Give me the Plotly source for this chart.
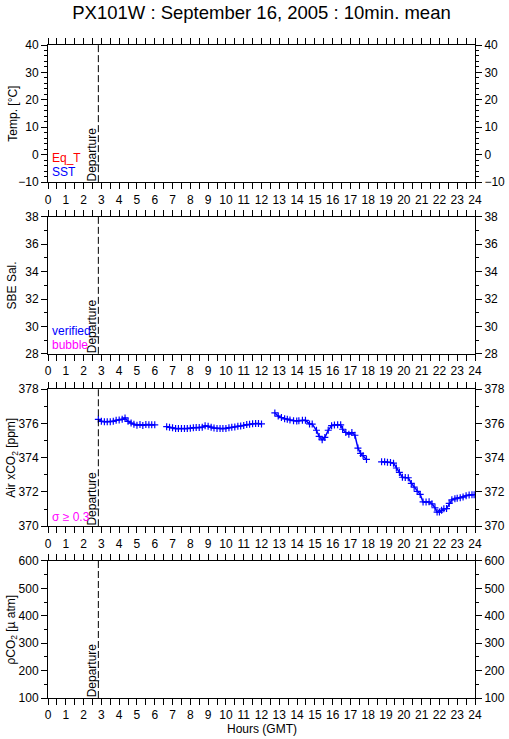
import plotly.graph_objects as go

# ---------------- data ----------------
title_text = "PX101W : September 16, 2005 : 10min. mean"
x_range = [0, 24]
departure_hour = 2.83

temp_range = [-10, 40]
sal_range = [28, 38]
air_range = [370, 378]
pco2_range = [100, 600]

# Air xCO2 (ppm), 10-min means, four segments separated by gaps
seg1_h = [2.83, 3.0, 3.17, 3.33, 3.5, 3.67, 3.83, 4.0, 4.17, 4.33, 4.5, 4.67,
          4.83, 5.0, 5.17, 5.33, 5.5, 5.67, 5.83, 6.0]
seg1_v = [376.24, 376.12, 376.10, 376.10, 376.10, 376.12, 376.18, 376.20, 376.24,
          376.32, 376.12, 376.02, 375.95, 375.90, 375.93, 375.88, 375.93, 375.92,
          375.92, 375.92]

seg2_h = [6.67, 6.83, 7.0, 7.17, 7.33, 7.5, 7.67, 7.83, 8.0, 8.17, 8.33, 8.5,
          8.67, 8.83, 9.0, 9.17, 9.33, 9.5, 9.67, 9.83, 10.0, 10.17, 10.33, 10.5,
          10.67, 10.83, 11.0, 11.17, 11.33, 11.5, 11.67, 11.83, 12.0]
seg2_v = [375.81, 375.77, 375.74, 375.70, 375.70, 375.70, 375.70, 375.70, 375.72,
          375.75, 375.76, 375.76, 375.78, 375.86, 375.84, 375.78, 375.73, 375.71,
          375.70, 375.70, 375.71, 375.75, 375.77, 375.79, 375.83, 375.85, 375.88,
          375.93, 375.95, 375.98, 375.99, 375.99, 375.97]

seg3_h = [12.75, 12.94, 13.12, 13.3, 13.45, 13.6, 13.8, 13.98, 14.1, 14.3, 14.47,
          14.7, 14.85, 15.09, 15.24, 15.41, 15.56, 15.75, 15.94, 16.1, 16.28, 16.45,
          16.56, 16.74, 16.91, 17.08, 17.25, 17.42, 17.57, 17.71, 17.9]
seg3_v = [376.61, 376.43, 376.34, 376.27, 376.25, 376.20, 376.16, 376.14, 376.16,
          376.18, 376.18, 375.97, 375.96, 375.60, 375.24, 375.04, 375.18, 375.60,
          375.87, 375.91, 375.92, 375.92, 375.66, 375.47, 375.37, 375.47, 375.31,
          374.56, 374.25, 374.12, 373.90]

seg4_h = [18.75, 18.92, 19.08, 19.25, 19.42, 19.58, 19.75, 19.92, 20.08, 20.25,
          20.42, 20.58, 20.75, 20.92, 21.08, 21.25, 21.42, 21.58, 21.75, 21.87,
          22.0, 22.12, 22.25, 22.4, 22.55, 22.7, 22.87, 23.0, 23.17, 23.33, 23.5,
          23.67, 23.83, 23.95]
seg4_v = [373.76, 373.76, 373.74, 373.72, 373.68, 373.40, 373.14, 372.86, 372.84,
          372.83, 372.50, 372.28, 372.04, 371.86, 371.42, 371.41, 371.43, 371.31,
          371.08, 370.83, 370.83, 370.93, 371.02, 371.03, 371.33, 371.54, 371.60,
          371.64, 371.66, 371.70, 371.78, 371.82, 371.84, 371.84]

# ---------------- layout helpers ----------------
FONT = "Liberation Sans, Arial, Helvetica, sans-serif"
BLUE = "#0000ff"
FS = 12
panels = [
    dict(rng=temp_range, dtick=10, minor=2, dom=[0.790, 1.0],
         title="Temp. [°C]"),
    dict(rng=sal_range, dtick=2, minor=1, dom=[0.527, 0.737],
         title="SBE Sal."),
    dict(rng=air_range, dtick=2, minor=1, dom=[0.263, 0.473],
         title="Air xCO<sub>2</sub> [ppm]"),
    dict(rng=pco2_range, dtick=100, minor=50, dom=[0.0, 0.210],
         title="ρCO<sub>2</sub> [µ atm]"),
]


def sfx(n):
    return "" if n == 1 else str(n)


fig = go.Figure()

tickfont = dict(family=FONT, size=FS, color="black")
layout = {}
annotations = []
shapes = []

for i, p in enumerate(panels, start=1):
    xs, ys, yrs = sfx(i), sfx(i), sfx(i + 4)
    xa = dict(range=x_range, dtick=1, tick0=0, ticks="outside", ticklen=6,
              tickcolor="black", showline=True, linecolor="black", linewidth=1,
              mirror="allticks", showgrid=False, zeroline=False,
              anchor=f"y{ys}", domain=[0, 1], tickfont=tickfont,
              minor=dict(dtick=0.5, tick0=0, ticks="outside", ticklen=3,
                         tickcolor="black", showgrid=False),
              fixedrange=True)
    ya = dict(range=p["rng"], dtick=p["dtick"], tick0=p["rng"][0], ticks="outside",
              ticklen=6, tickcolor="black", showline=True, linecolor="black",
              linewidth=1, showgrid=False, zeroline=False, anchor=f"x{xs}",
              domain=p["dom"], tickfont=tickfont, side="left",
              minor=dict(dtick=p["minor"], ticks="outside", ticklen=3,
                         tickcolor="black", showgrid=False),
              fixedrange=True)
    yr = dict(ya)
    yr.update(side="right", overlaying=f"y{ys}", anchor=f"x{xs}")
    yr.pop("domain")
    layout[f"xaxis{xs}"] = xa
    layout[f"yaxis{ys}"] = ya
    layout[f"yaxis{yrs}"] = yr

    # placeholder traces so every axis is drawn
    fig.add_trace(go.Scatter(x=[None], y=[None], xaxis=f"x{xs}", yaxis=f"y{ys}",
                             showlegend=False, hoverinfo="skip"))
    fig.add_trace(go.Scatter(x=[None], y=[None], xaxis=f"x{xs}", yaxis=f"y{yrs}",
                             showlegend=False, hoverinfo="skip"))

    # departure line + label
    shapes.append(dict(type="line", xref=f"x{xs}", yref=f"y{ys} domain",
                       x0=departure_hour, x1=departure_hour, y0=0, y1=1,
                       line=dict(color="black", width=1, dash="7px,3px")))
    annotations.append(dict(text="Departure", x=departure_hour, xref=f"x{xs}",
                            y=0, yref=f"y{ys} domain", xanchor="right",
                            yanchor="bottom", textangle=-90, showarrow=False,
                            xshift=3, yshift=-1,
                            font=dict(family=FONT, size=FS, color="black")))
    # y-axis title
    annotations.append(dict(text=p["title"], x=-0.084, xref="paper",
                            y=(p["dom"][0] + p["dom"][1]) / 2, yref="paper",
                            xanchor="center", yanchor="middle", textangle=-90,
                            showarrow=False,
                            font=dict(family=FONT, size=FS, color="black")))

# Air xCO2 data
for hh, vv in [(seg1_h, seg1_v), (seg2_h, seg2_v), (seg3_h, seg3_v), (seg4_h, seg4_v)]:
    fig.add_trace(go.Scatter(x=hh, y=vv, xaxis="x3", yaxis="y3", mode="lines+markers",
                             line=dict(color=BLUE, width=1.5),
                             marker=dict(symbol="cross-thin", size=5,
                                         line=dict(color=BLUE, width=1.2)),
                             showlegend=False))


def label(text, y, color):
    annotations.append(dict(text=text, x=0.005, xref="paper", y=y, yref="paper",
                            xanchor="left", yanchor="middle", showarrow=False,
                            font=dict(family=FONT, size=FS, color=color)))


label("Eq_T", 0.827, "red")
label("SST", 0.805, BLUE)
label("verified", 0.562, BLUE)
label("bubble", 0.5406, "magenta")
label("σ ≥ 0.3", 0.277, "magenta")

annotations.append(dict(text="Hours (GMT)", x=0.5, xref="paper", y=-0.0475,
                        yref="paper", xanchor="center", yanchor="middle",
                        showarrow=False, font=dict(family=FONT, size=FS, color="black")))

fig.update_layout(
    width=509, height=739,
    margin=dict(l=48, r=34, t=45, b=41, autoexpand=False),
    paper_bgcolor="white", plot_bgcolor="white",
    title=dict(text=title_text, x=0.5, xref="paper", xanchor="center",
               y=1 - 13 / 739, yref="container", yanchor="middle",
               font=dict(family=FONT, size=18.5, color="black")),
    showlegend=False,
    annotations=annotations, shapes=shapes,
    **layout,
)

fig.write_html("out.html", config={"displayModeBar": False},
               post_script="document.body.style.margin='0';")
